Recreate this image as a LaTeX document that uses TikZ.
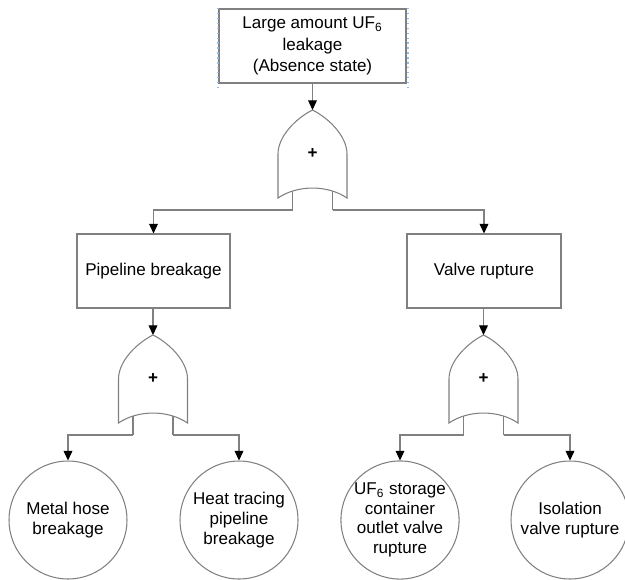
\documentclass[tikz,border=0pt]{standalone}
\usepackage{fontspec}
\setmainfont{Liberation Sans}
\usetikzlibrary{arrows.meta}
\definecolor{edge}{HTML}{808080}
\definecolor{selblue}{HTML}{8CB8EC}

\tikzset{
 pics/orgate/.style={code={
  \draw[edge,line width=0.6pt,fill=white] (0,0) .. controls (16,8) and (34.5,26) .. (34.5,44) -- (34.5,88)
   .. controls (15,74.7) and (-15,74.7) .. (-34.5,88) -- (-34.5,44) .. controls (-34.5,26) and (-16,8) .. (0,0) -- cycle;
  \draw[edge,line width=0.6pt] (-20,81) -- (-20,100) (20,81) -- (20,100);
  \coordinate (-top) at (0,0);
  \coordinate (-l) at (-20,100);
  \coordinate (-r) at (20,100);
  \node[font=\fontsize{9.7}{11}\selectfont\bfseries] (-sym) at (0,43) {+};
 }}
}

\begin{document}
\begin{tikzpicture}
[x=0.02cm,y=-0.02cm,font=\fontsize{9.7}{11.2}\selectfont,
 event/.style={draw=edge,line width=0.6pt,align=center,minimum height=1.48cm},
 basic/.style={circle,draw=edge,line width=0.6pt,align=center,minimum size=2.36cm,inner sep=0pt},
 link/.style={draw=edge,line width=0.6pt,-{Triangle[black,length=5.5pt,width=5pt]}}]
\useasboundingbox (0,0) rectangle (625,579);
\node[event,minimum width=3.74cm,font=\fontsize{9.7}{12.2}\selectfont] (top) at (312.5,46) {Large amount UF\textsubscript{6}\\leakage\\(Absence state)};
\draw[selblue,dotted,line width=0.8pt] (218,8) -- (218,87) (408,8) -- (408,87);
\pic (g1) at (312.5,110) {orgate};
\node[event,minimum width=3.06cm] (pipe) at (153.5,271) {Pipeline breakage};
\node[event,minimum width=3.08cm] (valve) at (484,271) {Valve rupture};
\pic (g2) at (153,335) {orgate};
\pic (g3) at (483.5,335) {orgate};
\node[basic] (c1) at (68,520) {Metal hose\\breakage};
\node[basic] (c2) at (239,520) {Heat tracing\\pipeline\\breakage};
\node[basic] (c3) at (400,520) {UF\textsubscript{6} storage\\container\\outlet valve\\rupture};
\node[basic] (c4) at (570,520) {Isolation\\valve rupture};
\foreach \from/\to in {top.south/g1-top,g1-l/pipe.north,g1-r/valve.north,pipe.south/g2-top,valve.south/g3-top,g2-l/c1.north,g2-r/c2.north,g3-l/c3.north,g3-r/c4.north}
\draw[link] (\from) -| (\to);
\end{tikzpicture}
\end{document}
